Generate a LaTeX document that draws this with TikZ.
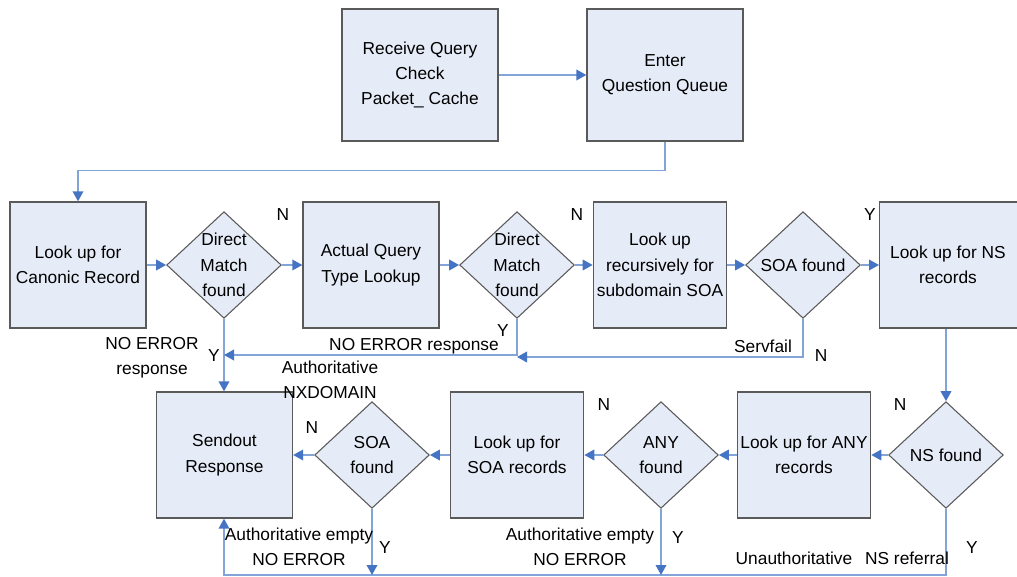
\documentclass[tikz,border=0pt]{standalone}
\usepackage{fontspec}
\setmainfont{Liberation Sans}
\usetikzlibrary{shapes.geometric,arrows.meta}
\definecolor{boxfill}{HTML}{E6ECF7}
\definecolor{boxline}{HTML}{5A5A5A}
\definecolor{conn}{HTML}{82A4D8}
\definecolor{tipc}{HTML}{4674C4}
\begin{document}
\begin{tikzpicture}[x=0.75pt,y=-0.75pt,
 txt/.style={font=\fontsize{13}{19}\selectfont,align=center},
 box/.style={txt,draw=boxline,fill=boxfill,line width=1pt,minimum width=102pt,minimum height=94.5pt,inner sep=0pt},
 bigbox/.style={box,minimum width=117pt,minimum height=99pt},
 dia/.style={diamond,draw=boxline,fill=boxfill,line width=0.8pt,minimum width=86pt,minimum height=80pt,inner sep=0pt},
 lbl/.style={txt,inner sep=0pt},
 ln/.style={draw=conn,line width=1.1pt},
 arr/.style={ln,-{Triangle[length=7.5pt,width=8pt,color=tipc]}}]
\useasboundingbox (0,0) rectangle (1017,577);
% top row
\node[bigbox] (recv) at (420,75) {Receive Query\\Check\\Packet\_ Cache};
\node[bigbox] (enter) at (665,75) {Enter\\Question Queue};
% second row
\node[box] (canon) at (78,265) {Look up for\\Canonic Record};
\node[dia] (d1) at (224,265) {};
\node[txt] (d1t) at (224,265) {Direct\\Match\\found};
\node[box] (actual) at (371,265) {Actual Query\\Type Lookup};
\node[dia] (d2) at (517,265) {};
\node[txt] (d2t) at (517,265) {Direct\\Match\\found};
\node[box,minimum width=100pt] (recur) at (660,265) {Look up\\recursively for\\subdomain SOA};
\node[dia] (d3) at (803,265) {};
\node[txt] (d3t) at (803,265) {SOA found};
\node[box,minimum width=106pt,anchor=west] (nsrec) at (879,265) {};
\node[txt] (nsrect) at (948,265) {Look up for NS\\records};
% third row
\node[box] (send) at (224.5,455) {Sendout\\Response};
\node[dia] (d4) at (372,455) {};
\node[txt] (d4t) at (372,455) {SOA\\found};
\node[box,minimum width=100pt] (soarec) at (517,455) {Look up for\\SOA records};
\node[dia] (d5) at (661,455) {};
\node[txt] (d5t) at (661,455) {ANY\\found};
\node[box,minimum width=100pt] (anyrec) at (804,455) {Look up for ANY\\records};
\node[dia] (d6) at (946,455) {};
\node[txt] (d6t) at (946,455) {NS found};
% helper coordinates
\coordinate (j1) at (224,355);
\coordinate (j2) at (517,357);
\coordinate (bot) at (0,575);
% connectors
\draw[arr] (recv) -- (enter);
\draw[arr] (enter.south) -- ++(0,29) -| (canon.north);
\draw[arr] (canon) -- (d1);
\draw[arr] (d1) -- (actual);
\draw[arr] (actual) -- (d2);
\draw[arr] (d2) -- (recur);
\draw[arr] (recur) -- (d3);
\draw[arr] (d3) -- (nsrec);
\draw[arr] (d1.south) -- (d1.south |- send.north);
\draw[arr] (d2.south) |- (j1);
\draw[arr] (d3.south) |- (j2);
\draw[arr] (d6 |- nsrec.south) -- (d6.north);
\draw[arr] (d6) -- (anyrec);
\draw[arr] (anyrec) -- (d5);
\draw[arr] (d5) -- (soarec);
\draw[arr] (soarec) -- (d4);
\draw[arr] (d4) -- (send);
\draw[arr] (d6.south) |- (bot -| d1.south) -- (send.south -| d1.south);
\draw[arr] (d5.south) -- (d5.south |- bot);
\draw[arr] (d4.south) -- (d4.south |- bot);
% labels
\node[lbl] (n1) at (283,215) {N};
\node[lbl] (n2) at (577,215) {N};
\node[lbl] (y1) at (870,215) {Y};
\node[lbl] (l1) at (152,358) {NO ERROR\\response};
\node[lbl] (y2) at (214,356) {Y};
\node[lbl] (l2) at (330,380) {Authoritative\\NXDOMAIN};
\node[lbl] (l3) at (414,346) {NO ERROR response};
\node[lbl] (y3) at (503,331) {Y};
\node[lbl] (l4) at (763,346) {Servfail};
\node[lbl] (n3) at (821,356) {N};
\node[lbl] (n4) at (312,428) {N};
\node[lbl] (n5) at (604,405) {N};
\node[lbl] (n6) at (900,405) {N};
\node[lbl] (l5) at (299,547) {Authoritative empty\\NO ERROR};
\node[lbl] (y4) at (385,548) {Y};
\node[lbl] (l6) at (580,547) {Authoritative empty\\NO ERROR};
\node[lbl] (y5) at (678,538) {Y};
\node[lbl] (l7) at (794,558) {Unauthoritative};
\node[lbl] (l8) at (907,558) {NS referral};
\node[lbl] (y6) at (972,548) {Y};
\end{tikzpicture}
\end{document}
